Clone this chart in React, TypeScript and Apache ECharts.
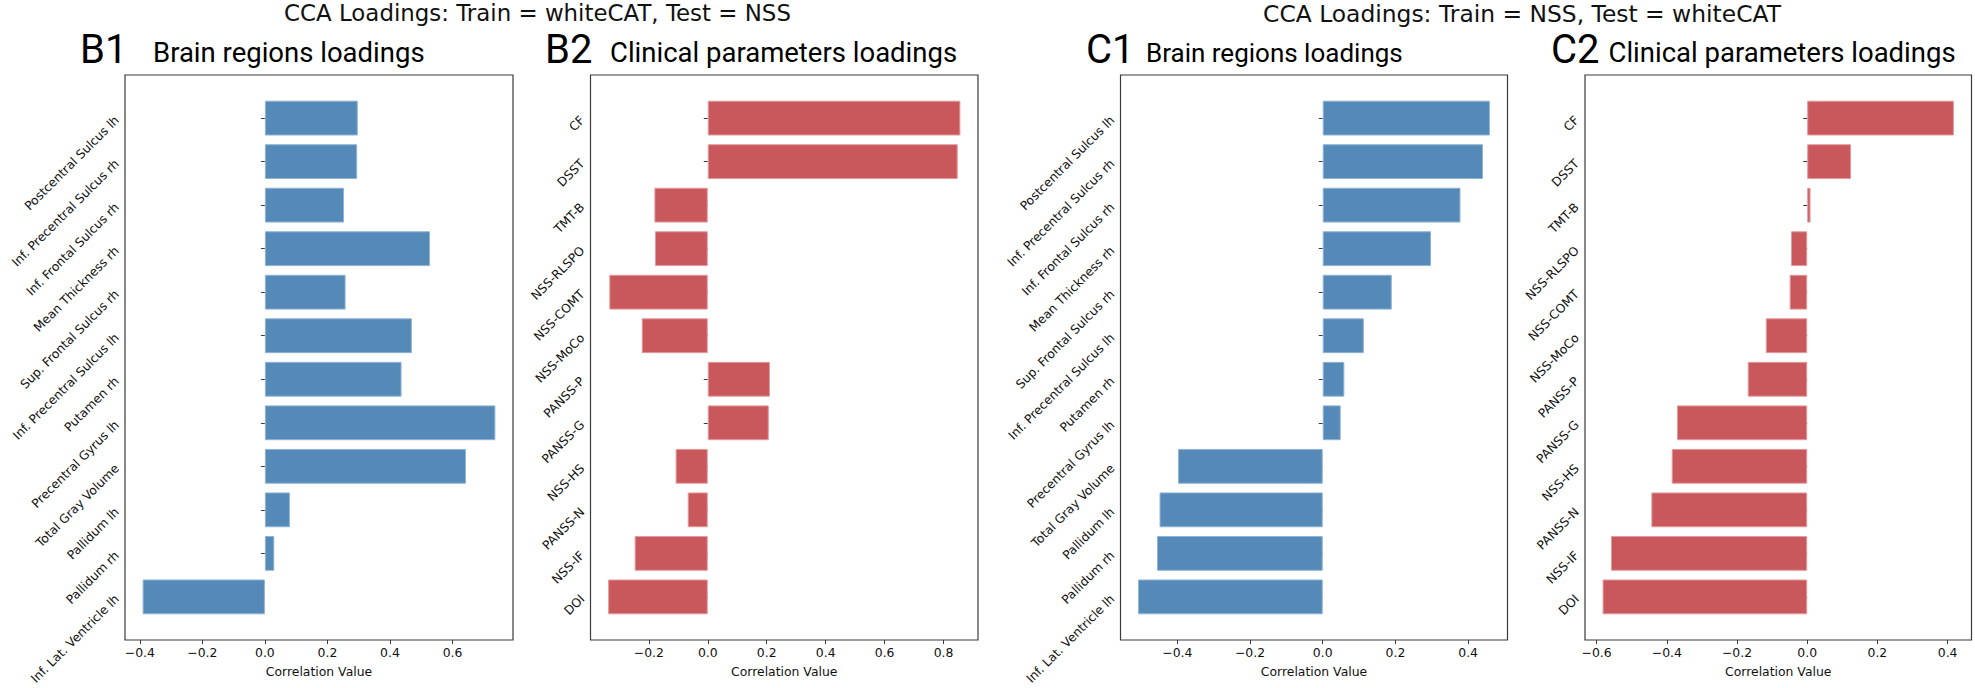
import React, { useEffect, useRef } from "react";
import * as echarts from "echarts";

// ---------- data ----------
const brainRegions = [
  "Postcentral Sulcus lh",
  "Inf. Precentral Sulcus rh",
  "Inf. Frontal Sulcus rh",
  "Mean Thickness rh",
  "Sup. Frontal Sulcus rh",
  "Inf. Precentral Sulcus lh",
  "Putamen rh",
  "Precentral Gyrus lh",
  "Total Gray Volume",
  "Pallidum lh",
  "Pallidum rh",
  "Inf. Lat. Ventricle lh",
];
const clinicalParams = [
  "CF",
  "DSST",
  "TMT-B",
  "NSS-RLSPO",
  "NSS-COMT",
  "NSS-MoCo",
  "PANSS-P",
  "PANSS-G",
  "NSS-HS",
  "PANSS-N",
  "NSS-IF",
  "DOI",
];
const b1Values = [0.297, 0.295, 0.253, 0.528, 0.258, 0.47, 0.437, 0.737, 0.643, 0.08, 0.03, -0.391];
const b2Values = [0.857, 0.848, -0.181, -0.179, -0.334, -0.224, 0.211, 0.207, -0.109, -0.068, -0.248, -0.338];
const c1Values = [0.46, 0.441, 0.379, 0.298, 0.19, 0.113, 0.0595, 0.0495, -0.398, -0.449, -0.456, -0.508];
const c2Values = [0.418, 0.125, 0.0095, -0.046, -0.05, -0.118, -0.1695, -0.371, -0.386, -0.444, -0.559, -0.583];

const b1Ticks = [-0.4, -0.2, 0, 0.2, 0.4, 0.6];
const b2Ticks = [-0.2, 0, 0.2, 0.4, 0.6, 0.8];
const c1Ticks = [-0.4, -0.2, 0, 0.2, 0.4];
const c2Ticks = [-0.6, -0.4, -0.2, 0, 0.2, 0.4];

const suptitleB = "CCA Loadings: Train = whiteCAT, Test = NSS";
const suptitleC = "CCA Loadings: Train = NSS, Test = whiteCAT";
const xAxisName = "Correlation Value";

// ---------- styles ----------
const BLUE = "#5589b8";
const RED = "#c9585d";
const BLUE_EDGE = "#8fb3d3";
const RED_EDGE = "#e39a9d";
const FRAME = "#3a3a3a";
const TEXT = "#111111";
const TICK_FONT = "'DejaVu Sans', sans-serif";
const TITLE_FONT = "Roboto, 'DejaVu Sans', sans-serif";

const panels = [
  { cats: brainRegions, vals: b1Values, ticks: b1Ticks, color: BLUE, edge: BLUE_EDGE, frame: { x: 125, y: 75, w: 388, h: 565 }, tag: "B1", tagX: 80, title: "Brain regions loadings", titleX: 153, titleSize: 27.5 },
  { cats: clinicalParams, vals: b2Values, ticks: b2Ticks, color: RED, edge: RED_EDGE, frame: { x: 590.5, y: 75, w: 387.5, h: 565 }, tag: "B2", tagX: 545, title: "Clinical parameters loadings", titleX: 610, titleSize: 27.5 },
  { cats: brainRegions, vals: c1Values, ticks: c1Ticks, color: BLUE, edge: BLUE_EDGE, frame: { x: 1120.5, y: 75, w: 387, h: 565 }, tag: "C1", tagX: 1086, title: "Brain regions loadings", titleX: 1146, titleSize: 26 },
  { cats: clinicalParams, vals: c2Values, ticks: c2Ticks, color: RED, edge: RED_EDGE, frame: { x: 1585, y: 75, w: 386.5, h: 565 }, tag: "C2", tagX: 1551, title: "Clinical parameters loadings", titleX: 1608.5, titleSize: 27.5 },
];

const fmt = (v: number) => {
  const s = Math.abs(v).toFixed(1);
  return v < -1e-9 ? "\u2212" + s : s;
};

function buildOption() {
  const grid: any[] = [];
  const xAxis: any[] = [];
  const yAxis: any[] = [];
  const series: any[] = [];
  const graphic: any[] = [];

  panels.forEach((p, i) => {
    const n = p.cats.length;
    // matplotlib-like limits: bars span -0.4..n-0.6, 5% margin
    const span = n - 1 + 0.8;
    const marg = 0.05 * span;
    const pxPerUnit = p.frame.h / (span + 2 * marg);
    const pad = (marg - 0.1) * pxPerUnit;

    const dmin = Math.min(0, ...p.vals);
    const dmax = Math.max(0, ...p.vals);
    const r = dmax - dmin;

    grid.push({
      left: p.frame.x,
      top: p.frame.y + pad,
      width: p.frame.w,
      height: p.frame.h - 2 * pad,
      containLabel: false,
    });
    xAxis.push({
      gridIndex: i,
      type: "value",
      min: dmin - 0.05 * r,
      max: dmax + 0.05 * r,
      offset: pad,
      axisLine: { show: false },
      splitLine: { show: false },
      axisTick: { show: true, length: 4, customValues: p.ticks, lineStyle: { color: FRAME, width: 1 } },
      axisLabel: {
        customValues: p.ticks,
        formatter: fmt,
        fontFamily: TICK_FONT,
        fontSize: 12.4,
        color: TEXT,
        margin: 6,
      },
      name: xAxisName,
      nameLocation: "middle",
      nameGap: 25,
      nameTextStyle: { fontFamily: TICK_FONT, fontSize: 12.4, color: TEXT },
    });
    yAxis.push({
      gridIndex: i,
      type: "category",
      data: p.cats,
      inverse: true,
      axisLine: { show: false },
      splitLine: { show: false },
      axisTick: { show: true, alignWithLabel: true, length: 4, lineStyle: { color: FRAME, width: 1 } },
      axisLabel: {
        rotate: 45,
        interval: 0,
        margin: 8,
        fontFamily: TICK_FONT,
        fontSize: 12.3,
        color: TEXT,
      },
    });
    series.push({
      type: "bar",
      xAxisIndex: i,
      yAxisIndex: i,
      data: p.vals,
      barWidth: "80%",
      itemStyle: { color: p.color, borderColor: p.edge, borderWidth: 1 },
      silent: true,
    });

    graphic.push({
      type: "rect",
      shape: { x: p.frame.x, y: p.frame.y, width: p.frame.w, height: p.frame.h },
      style: { fill: "none", stroke: FRAME, lineWidth: 1.2 },
      z: 100,
      silent: true,
    });
    graphic.push({
      type: "text",
      x: p.tagX,
      y: 49.5,
      style: { text: p.tag, fontFamily: TITLE_FONT, fontSize: 40, fill: "#000", textAlign: "left", textVerticalAlign: "middle" },
    });
    graphic.push({
      type: "text",
      x: p.titleX,
      y: 52.8,
      style: { text: p.title, fontFamily: TITLE_FONT, fontSize: p.titleSize, fill: "#000", textAlign: "left", textVerticalAlign: "middle" },
    });
  });

  graphic.push({
    type: "text",
    x: 537.5,
    y: 13,
    style: { text: suptitleB, fontFamily: TICK_FONT, fontSize: 22.9, fill: TEXT, textAlign: "center", textVerticalAlign: "middle" },
  });
  graphic.push({
    type: "text",
    x: 1522,
    y: 13.5,
    style: { text: suptitleC, fontFamily: TICK_FONT, fontSize: 23.4, fill: TEXT, textAlign: "center", textVerticalAlign: "middle" },
  });

  return {
    animation: false,
    backgroundColor: "#ffffff",
    grid,
    xAxis,
    yAxis,
    series,
    graphic: { elements: graphic },
  };
}

export default function App() {
  const ref = useRef<HTMLDivElement>(null);
  useEffect(() => {
    document.body.style.margin = "0";
    if (!ref.current) return;
    const chart = echarts.init(ref.current, undefined, { renderer: "svg" });
    chart.setOption(buildOption() as any);
    return () => chart.dispose();
  }, []);
  return <div ref={ref} style={{ width: 1975, height: 688, background: "#fff" }} />;
}
